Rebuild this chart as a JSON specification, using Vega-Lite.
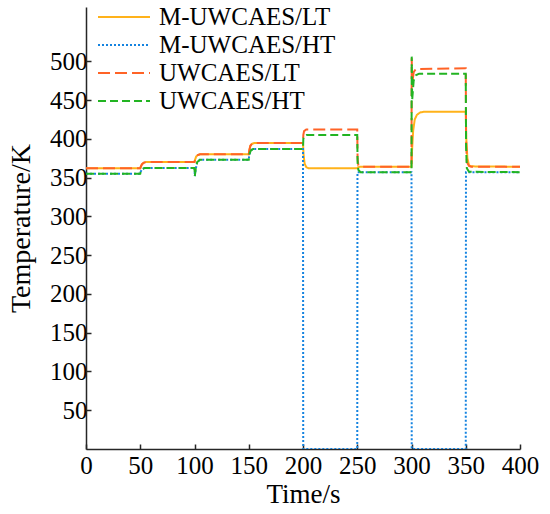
{
  "$schema": "https://vega.github.io/schema/vega-lite/v6.json",
  "width": 434,
  "height": 442,
  "autosize": {"type": "none"},
  "padding": {"left": 86, "top": 7, "right": 30, "bottom": 65},
  "background": "white",
  "config": {
    "view": {"stroke": null},
    "font": "Liberation Serif",
    "axis": {
      "labelColor": "black",
      "titleColor": "black",
      "titleFontWeight": "normal",
      "domainColor": "#262626",
      "tickColor": "#262626",
      "domainWidth": 1.5,
      "tickWidth": 1.5,
      "grid": false
    }
  },
  "data": {
    "values": [
      {"s": "M-UWCAES/LT", "t": 0, "v": 362},
      {"s": "M-UWCAES/LT", "t": 50, "v": 362},
      {"s": "M-UWCAES/LT", "t": 50.5, "v": 364},
      {"s": "M-UWCAES/LT", "t": 51.5, "v": 367},
      {"s": "M-UWCAES/LT", "t": 53, "v": 369},
      {"s": "M-UWCAES/LT", "t": 55, "v": 370},
      {"s": "M-UWCAES/LT", "t": 100, "v": 370},
      {"s": "M-UWCAES/LT", "t": 100.5, "v": 373},
      {"s": "M-UWCAES/LT", "t": 101.5, "v": 377},
      {"s": "M-UWCAES/LT", "t": 103, "v": 379},
      {"s": "M-UWCAES/LT", "t": 105, "v": 380},
      {"s": "M-UWCAES/LT", "t": 150, "v": 380},
      {"s": "M-UWCAES/LT", "t": 150.5, "v": 385},
      {"s": "M-UWCAES/LT", "t": 151.5, "v": 391},
      {"s": "M-UWCAES/LT", "t": 153, "v": 393.5},
      {"s": "M-UWCAES/LT", "t": 155, "v": 394.5},
      {"s": "M-UWCAES/LT", "t": 200, "v": 394.5},
      {"s": "M-UWCAES/LT", "t": 200.5, "v": 380},
      {"s": "M-UWCAES/LT", "t": 201.5, "v": 368},
      {"s": "M-UWCAES/LT", "t": 203, "v": 363.5},
      {"s": "M-UWCAES/LT", "t": 205, "v": 362},
      {"s": "M-UWCAES/LT", "t": 250, "v": 362},
      {"s": "M-UWCAES/LT", "t": 250.5, "v": 363},
      {"s": "M-UWCAES/LT", "t": 252, "v": 364},
      {"s": "M-UWCAES/LT", "t": 300, "v": 364},
      {"s": "M-UWCAES/LT", "t": 300.5, "v": 385},
      {"s": "M-UWCAES/LT", "t": 301.5, "v": 410},
      {"s": "M-UWCAES/LT", "t": 303, "v": 425},
      {"s": "M-UWCAES/LT", "t": 305, "v": 431},
      {"s": "M-UWCAES/LT", "t": 308, "v": 434},
      {"s": "M-UWCAES/LT", "t": 312, "v": 435},
      {"s": "M-UWCAES/LT", "t": 350, "v": 435},
      {"s": "M-UWCAES/LT", "t": 350.5, "v": 400},
      {"s": "M-UWCAES/LT", "t": 351.5, "v": 375},
      {"s": "M-UWCAES/LT", "t": 353, "v": 366},
      {"s": "M-UWCAES/LT", "t": 355, "v": 364.5},
      {"s": "M-UWCAES/LT", "t": 400, "v": 364},

      {"s": "M-UWCAES/HT", "t": 0, "v": 355},
      {"s": "M-UWCAES/HT", "t": 50, "v": 355},
      {"s": "M-UWCAES/HT", "t": 50.5, "v": 358},
      {"s": "M-UWCAES/HT", "t": 52, "v": 361},
      {"s": "M-UWCAES/HT", "t": 54, "v": 362.5},
      {"s": "M-UWCAES/HT", "t": 100, "v": 362.5},
      {"s": "M-UWCAES/HT", "t": 100.3, "v": 352},
      {"s": "M-UWCAES/HT", "t": 101, "v": 360},
      {"s": "M-UWCAES/HT", "t": 102.5, "v": 370},
      {"s": "M-UWCAES/HT", "t": 105, "v": 373},
      {"s": "M-UWCAES/HT", "t": 150, "v": 373},
      {"s": "M-UWCAES/HT", "t": 150.5, "v": 380},
      {"s": "M-UWCAES/HT", "t": 152, "v": 385},
      {"s": "M-UWCAES/HT", "t": 154, "v": 387},
      {"s": "M-UWCAES/HT", "t": 200, "v": 387},
      {"s": "M-UWCAES/HT", "t": 200.2, "v": 0},
      {"s": "M-UWCAES/HT", "t": 250, "v": 0},
      {"s": "M-UWCAES/HT", "t": 250.2, "v": 357},
      {"s": "M-UWCAES/HT", "t": 300, "v": 357},
      {"s": "M-UWCAES/HT", "t": 300.2, "v": 0},
      {"s": "M-UWCAES/HT", "t": 350, "v": 0},
      {"s": "M-UWCAES/HT", "t": 350.2, "v": 357},
      {"s": "M-UWCAES/HT", "t": 400, "v": 357},

      {"s": "UWCAES/LT", "t": 0, "v": 362},
      {"s": "UWCAES/LT", "t": 50, "v": 362},
      {"s": "UWCAES/LT", "t": 50.5, "v": 364},
      {"s": "UWCAES/LT", "t": 51.5, "v": 367},
      {"s": "UWCAES/LT", "t": 53, "v": 369},
      {"s": "UWCAES/LT", "t": 55, "v": 370},
      {"s": "UWCAES/LT", "t": 100, "v": 370},
      {"s": "UWCAES/LT", "t": 100.5, "v": 373},
      {"s": "UWCAES/LT", "t": 101.5, "v": 377},
      {"s": "UWCAES/LT", "t": 103, "v": 379},
      {"s": "UWCAES/LT", "t": 105, "v": 380},
      {"s": "UWCAES/LT", "t": 150, "v": 380},
      {"s": "UWCAES/LT", "t": 150.5, "v": 385},
      {"s": "UWCAES/LT", "t": 151.5, "v": 391},
      {"s": "UWCAES/LT", "t": 153, "v": 393.5},
      {"s": "UWCAES/LT", "t": 155, "v": 394.5},
      {"s": "UWCAES/LT", "t": 200, "v": 394.5},
      {"s": "UWCAES/LT", "t": 200.3, "v": 405},
      {"s": "UWCAES/LT", "t": 201, "v": 410},
      {"s": "UWCAES/LT", "t": 203, "v": 412},
      {"s": "UWCAES/LT", "t": 250, "v": 412},
      {"s": "UWCAES/LT", "t": 250.3, "v": 375},
      {"s": "UWCAES/LT", "t": 251, "v": 366},
      {"s": "UWCAES/LT", "t": 253, "v": 364},
      {"s": "UWCAES/LT", "t": 300, "v": 364},
      {"s": "UWCAES/LT", "t": 300.2, "v": 504},
      {"s": "UWCAES/LT", "t": 300.6, "v": 470},
      {"s": "UWCAES/LT", "t": 302, "v": 486},
      {"s": "UWCAES/LT", "t": 304, "v": 490},
      {"s": "UWCAES/LT", "t": 350, "v": 491},
      {"s": "UWCAES/LT", "t": 350.3, "v": 400},
      {"s": "UWCAES/LT", "t": 351, "v": 370},
      {"s": "UWCAES/LT", "t": 353, "v": 365},
      {"s": "UWCAES/LT", "t": 355, "v": 364},
      {"s": "UWCAES/LT", "t": 400, "v": 364},

      {"s": "UWCAES/HT", "t": 0, "v": 355},
      {"s": "UWCAES/HT", "t": 50, "v": 355},
      {"s": "UWCAES/HT", "t": 50.5, "v": 358},
      {"s": "UWCAES/HT", "t": 52, "v": 361},
      {"s": "UWCAES/HT", "t": 54, "v": 362.5},
      {"s": "UWCAES/HT", "t": 100, "v": 362.5},
      {"s": "UWCAES/HT", "t": 100.3, "v": 352},
      {"s": "UWCAES/HT", "t": 101, "v": 360},
      {"s": "UWCAES/HT", "t": 102.5, "v": 370},
      {"s": "UWCAES/HT", "t": 105, "v": 373},
      {"s": "UWCAES/HT", "t": 150, "v": 373},
      {"s": "UWCAES/HT", "t": 150.5, "v": 380},
      {"s": "UWCAES/HT", "t": 152, "v": 385},
      {"s": "UWCAES/HT", "t": 154, "v": 387},
      {"s": "UWCAES/HT", "t": 200, "v": 387},
      {"s": "UWCAES/HT", "t": 200.3, "v": 400},
      {"s": "UWCAES/HT", "t": 201, "v": 403},
      {"s": "UWCAES/HT", "t": 203, "v": 405},
      {"s": "UWCAES/HT", "t": 250, "v": 405},
      {"s": "UWCAES/HT", "t": 250.3, "v": 370},
      {"s": "UWCAES/HT", "t": 251, "v": 360},
      {"s": "UWCAES/HT", "t": 253, "v": 357},
      {"s": "UWCAES/HT", "t": 300, "v": 357},
      {"s": "UWCAES/HT", "t": 300.2, "v": 506},
      {"s": "UWCAES/HT", "t": 300.6, "v": 450},
      {"s": "UWCAES/HT", "t": 302, "v": 475},
      {"s": "UWCAES/HT", "t": 304, "v": 482},
      {"s": "UWCAES/HT", "t": 307, "v": 484},
      {"s": "UWCAES/HT", "t": 350, "v": 484},
      {"s": "UWCAES/HT", "t": 350.3, "v": 390},
      {"s": "UWCAES/HT", "t": 351, "v": 362},
      {"s": "UWCAES/HT", "t": 353, "v": 357.5},
      {"s": "UWCAES/HT", "t": 400, "v": 357}
    ]
  },
  "mark": {"type": "line", "strokeWidth": 2, "clip": true},
  "encoding": {
    "x": {
      "field": "t",
      "type": "quantitative",
      "title": "Time/s",
      "scale": {"domain": [0, 400], "nice": false},
      "axis": {"values": [0, 50, 100, 150, 200, 250, 300, 350, 400], "tickSize": -5, "labelPadding": 9, "titlePadding": 3, "labelFlush": false, "labelFont": "Liberation Serif", "labelFontSize": 25, "titleFont": "Liberation Serif", "titleFontSize": 27}
    },
    "y": {
      "field": "v",
      "type": "quantitative",
      "title": "Temperature/K",
      "scale": {"domain": [0, 570], "nice": false},
      "axis": {"values": [50, 100, 150, 200, 250, 300, 350, 400, 450, 500], "tickSize": -5, "labelPadding": 4, "titlePadding": 14, "labelFont": "Liberation Serif", "labelFontSize": 25, "titleFont": "Liberation Serif", "titleFontSize": 28}
    },
    "color": {
      "field": "s",
      "type": "nominal",
      "sort": null,
      "scale": {
        "domain": ["M-UWCAES/LT", "M-UWCAES/HT", "UWCAES/LT", "UWCAES/HT"],
        "range": ["#FFB21A", "#1483E0", "#FF6326", "#22B422"]
      },
      "legend": {
        "title": null,
        "orient": "none",
        "legendX": 11,
        "legendY": -4,
        "symbolType": "stroke",
        "symbolSize": 2704,
        "symbolStrokeWidth": 2,
        "labelOffset": 8,
        "labelLimit": 400,
        "labelFont": "Liberation Serif",
        "labelFontSize": 25,
        "labelColor": "black",
        "clipHeight": 28,
        "rowPadding": 0
      }
    },
    "strokeDash": {
      "field": "s",
      "type": "nominal",
      "sort": null,
      "scale": {
        "domain": ["M-UWCAES/LT", "M-UWCAES/HT", "UWCAES/LT", "UWCAES/HT"],
        "range": [[1, 0], [2, 2], [12, 5], [8, 4]]
      },
      "legend": null
    }
  }
}
